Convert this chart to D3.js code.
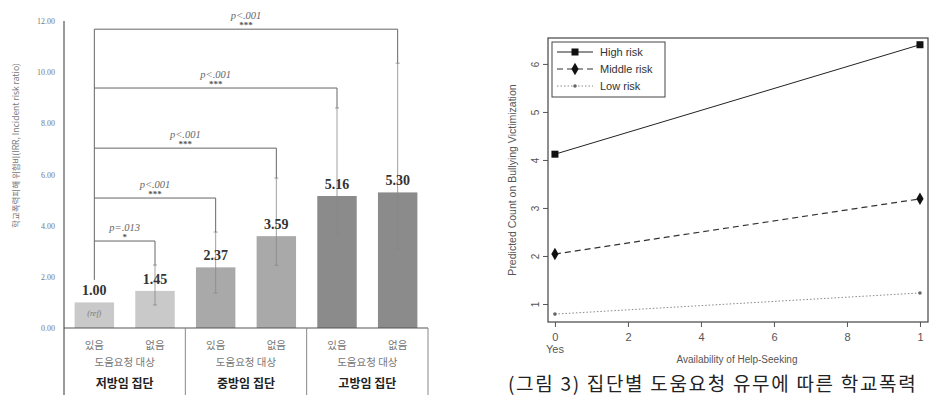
<!DOCTYPE html>
<html>
<head>
<meta charset="utf-8">
<script src="https://cdn.jsdelivr.net/npm/d3@7"></script>
<style>
  body { margin: 0; background: #fff; }
  svg { display: block; }
</style>
</head>
<body>
<svg id="chart" width="934" height="395"></svg>
<script>
// left chart: IRR by neglect group x help-seeking
const barLabels = ['있음', '없음', '있음', '없음', '있음', '없음'];
const groupNames = ['저방임 집단', '중방임 집단', '고방임 집단'];
const subTitle = '도움요청 대상';
const irr = [1.00, 1.45, 2.37, 3.59, 5.16, 5.30];
const ciLow = [null, 0.90, 1.37, 2.45, 3.70, 3.10];
const ciHigh = [null, 2.46, 3.75, 5.86, 8.60, 10.35];
const leftTicks = [0, 2, 4, 6, 8, 10, 12];
// significance brackets vs reference bar (index 0)
const compTarget = [1, 2, 3, 4, 5];
const compLevel = [3.40, 5.08, 7.03, 9.38, 11.68];
const compP = ['p=.013', 'p<.001', 'p<.001', 'p<.001', 'p<.001'];
const compStars = ['*', '***', '***', '***', '***'];
const refLegBottom = 1.88;

// right chart: predicted count
const riskNames = ['High risk', 'Middle risk', 'Low risk'];
const helpX = [0, 1];
const highRisk = [4.12, 6.40];
const middleRisk = [2.04, 3.19];
const lowRisk = [0.79, 1.23];
const rightXTicks = [0, 0.2, 0.4, 0.6, 0.8, 1];
const rightXTickLabels = ['0', '2', '4', '6', '8', '1'];
const rightYTicks = [1, 2, 3, 4, 5, 6];

const svg = d3.select('#chart');
const serif = 'Liberation Serif, DejaVu Serif, serif';
const sans = 'Liberation Sans, Arial, sans-serif';
const kr = 'Noto Sans CJK KR, sans-serif';

// ---------- left chart ----------
const L = { left: 64, right: 428, top: 21, base: 328, bottom: 395 };
const xb = d3.scaleBand().domain(d3.range(irr.length)).range([L.left, L.right]).paddingInner(0.35).paddingOuter(0.175);
const yb = d3.scaleLinear().domain([0, 12]).range([L.base, L.top]);
const barFill = ['#c9c9c9', '#c9c9c9', '#a9a9a9', '#a9a9a9', '#8b8b8b', '#8b8b8b'];
const cx = i => xb(i) + xb.bandwidth() / 2;

const left = svg.append('g');

const yAxis = left.append('g')
  .attr('transform', `translate(${L.left},0)`)
  .call(d3.axisLeft(yb).tickValues(leftTicks).tickSize(0).tickPadding(9).tickFormat(d3.format('.2f')));
yAxis.select('.domain').remove();
yAxis.selectAll('text').attr('font-family', serif).attr('font-size', 8).attr('fill', '#777');

left.append('line').attr('x1', L.left).attr('x2', L.left).attr('y1', yb(12)).attr('y2', L.bottom)
  .attr('stroke', '#555').attr('stroke-width', 1.2);

left.append('text')
  .attr('transform', `translate(17,${(63 + 228) / 2}) rotate(-90)`)
  .attr('text-anchor', 'middle').attr('dominant-baseline', 'middle')
  .attr('font-family', kr).attr('font-size', 8.5).attr('fill', '#777')
  .text('학교폭력피해 위험비(IRR, Incident risk ratio)');

// bars
left.selectAll('rect.bar').data(irr).join('rect')
  .attr('class', 'bar')
  .attr('x', (d, i) => xb(i)).attr('width', xb.bandwidth())
  .attr('y', d => yb(d)).attr('height', d => yb(0) - yb(d))
  .attr('fill', (d, i) => barFill[i]);

// error bars
const eb = left.append('g').attr('stroke', '#888').attr('stroke-width', 0.8);
irr.forEach((d, i) => {
  if (ciLow[i] == null) return;
  eb.append('line').attr('x1', cx(i)).attr('x2', cx(i)).attr('y1', yb(ciLow[i])).attr('y2', yb(ciHigh[i]));
  [ciLow[i], ciHigh[i]].forEach(v => {
    eb.append('line').attr('x1', cx(i) - 2).attr('x2', cx(i) + 2).attr('y1', yb(v)).attr('y2', yb(v));
  });
});

// brackets
const br = left.append('g');
br.append('line').attr('x1', cx(0)).attr('x2', cx(0))
  .attr('y1', yb(d3.max(compLevel))).attr('y2', yb(refLegBottom))
  .attr('stroke', '#666').attr('stroke-width', 1);
compTarget.forEach((t, k) => {
  const yy = yb(compLevel[k]);
  br.append('path')
    .attr('d', `M${cx(0)},${yy}H${cx(t)}V${yb(ciHigh[t])}`)
    .attr('fill', 'none').attr('stroke', '#666').attr('stroke-width', 1);
  const mid = (cx(0) + cx(t)) / 2;
  br.append('text').attr('x', mid).attr('y', yy - 10)
    .attr('text-anchor', 'middle').attr('font-family', serif).attr('font-style', 'italic')
    .attr('font-size', 10.5).attr('fill', '#666').text(compP[k]);
  br.append('text').attr('x', mid).attr('y', yy - 1)
    .attr('text-anchor', 'middle').attr('font-family', serif).attr('font-weight', 'bold')
    .attr('font-size', 9).attr('fill', '#555').text(compStars[k]);
});

// value labels
left.selectAll('text.val').data(irr).join('text')
  .attr('class', 'val')
  .attr('x', (d, i) => cx(i)).attr('y', d => yb(d) - 7)
  .attr('text-anchor', 'middle').attr('font-family', serif).attr('font-weight', 'bold')
  .attr('font-size', 14).attr('fill', '#333')
  .text(d => d3.format('.2f')(d));

left.append('text').attr('x', cx(0)).attr('y', yb(0.45))
  .attr('text-anchor', 'middle').attr('font-family', serif).attr('font-style', 'italic')
  .attr('font-size', 8).attr('fill', '#777').text('(ref)');

// baseline and category boxes
left.append('line').attr('x1', L.left).attr('x2', L.right).attr('y1', yb(0)).attr('y2', yb(0))
  .attr('stroke', '#555').attr('stroke-width', 1.2);
const step = xb.step();
groupNames.forEach((g, gi) => {
  const x0 = L.left + step * 2 * gi, x1 = x0 + step * 2;
  left.append('line').attr('x1', x1).attr('x2', x1).attr('y1', yb(0)).attr('y2', L.bottom)
    .attr('stroke', '#888').attr('stroke-width', 1);
  left.append('text').attr('x', (x0 + x1) / 2).attr('y', 366)
    .attr('text-anchor', 'middle').attr('font-family', kr).attr('font-size', 10.5).attr('fill', '#777')
    .text(subTitle);
  left.append('text').attr('x', (x0 + x1) / 2).attr('y', 388)
    .attr('text-anchor', 'middle').attr('font-family', kr).attr('font-weight', 'bold')
    .attr('font-size', 12).attr('fill', '#222').text(g);
});
left.selectAll('text.cat').data(barLabels).join('text')
  .attr('class', 'cat')
  .attr('x', (d, i) => cx(i)).attr('y', 349)
  .attr('text-anchor', 'middle').attr('font-family', kr).attr('font-size', 10.5).attr('fill', '#777')
  .text(d => d);

// ---------- right chart ----------
const R = { left: 548, right: 928, top: 38, bottom: 322 };
const xr = d3.scaleLinear().domain([-0.019, 1.022]).range([R.left, R.right]);
const yr = d3.scaleLinear().domain([0.625, 6.54]).range([R.bottom, R.top]);
const right = svg.append('g');

right.append('rect').attr('x', R.left).attr('y', R.top)
  .attr('width', R.right - R.left).attr('height', R.bottom - R.top)
  .attr('fill', 'none').attr('stroke', '#444').attr('stroke-width', 1.2);

const xAx = right.append('g').attr('transform', `translate(0,${R.bottom})`)
  .call(d3.axisBottom(xr).tickValues(rightXTicks).tickSize(5).tickPadding(6)
    .tickFormat((d, i) => rightXTickLabels[i]));
xAx.select('.domain').remove();
xAx.selectAll('line').attr('stroke', '#555');
xAx.selectAll('text').attr('font-family', sans).attr('font-size', 11).attr('fill', '#555');

const yAx = right.append('g').attr('transform', `translate(${R.left},0)`)
  .call(d3.axisLeft(yr).tickValues(rightYTicks).tickSize(5).tickFormat(d3.format('d')));
yAx.select('.domain').remove();
yAx.selectAll('line').attr('stroke', '#555');
yAx.selectAll('text')
  .attr('transform', 'translate(-13,0) rotate(-90)')
  .attr('x', 0).attr('y', 0).attr('dy', '0.35em')
  .attr('text-anchor', 'middle')
  .attr('font-family', sans).attr('font-size', 10).attr('fill', '#555');

right.append('text').attr('x', xr(0)).attr('y', 353)
  .attr('text-anchor', 'middle').attr('font-family', sans).attr('font-size', 11).attr('fill', '#555')
  .text('Yes');
right.append('text').attr('x', 737).attr('y', 363)
  .attr('text-anchor', 'middle').attr('font-family', sans).attr('font-size', 10).attr('fill', '#555')
  .text('Availability of Help-Seeking');
right.append('text')
  .attr('transform', `translate(513,${(R.top + R.bottom) / 2}) rotate(-90)`)
  .attr('text-anchor', 'middle').attr('dominant-baseline', 'middle')
  .attr('font-family', sans).attr('font-size', 10.5).attr('fill', '#555')
  .text('Predicted Count on Bullying Victimization');

const series = [
  { name: riskNames[0], values: highRisk, dash: null, color: '#222', width: 1, marker: 'square' },
  { name: riskNames[1], values: middleRisk, dash: '6,4', color: '#333', width: 1.2, marker: 'diamond' },
  { name: riskNames[2], values: lowRisk, dash: '1.5,2', color: '#888', width: 1, marker: 'plus' }
];
const line = d3.line().x((d, i) => xr(helpX[i])).y(d => yr(d));

function drawMarker(g, type, x, y) {
  if (type === 'square') {
    g.append('rect').attr('x', x - 3.5).attr('y', y - 3.5).attr('width', 7).attr('height', 7).attr('fill', '#111');
  } else if (type === 'diamond') {
    g.append('path').attr('d', d3.symbol(d3.symbolDiamond, 45)()).attr('transform', `translate(${x},${y})`).attr('fill', '#111');
  } else {
    g.append('circle').attr('cx', x).attr('cy', y).attr('r', 1.8).attr('fill', '#666');
  }
}

series.forEach(s => {
  right.append('path').datum(s.values).attr('d', line)
    .attr('fill', 'none').attr('stroke', s.color).attr('stroke-width', s.width)
    .attr('stroke-dasharray', s.dash);
  s.values.forEach((v, i) => drawMarker(right, s.marker, xr(helpX[i]), yr(v)));
});

// legend
const lg = right.append('g');
lg.append('rect').attr('x', 552).attr('y', 42).attr('width', 113).attr('height', 55)
  .attr('fill', '#fff').attr('stroke', '#444').attr('stroke-width', 1);
series.forEach((s, k) => {
  const yy = 52 + k * 17;
  lg.append('line').attr('x1', 557).attr('x2', 593).attr('y1', yy).attr('y2', yy)
    .attr('stroke', s.color).attr('stroke-width', s.width).attr('stroke-dasharray', s.dash);
  drawMarker(lg, s.marker, 575, yy);
  lg.append('text').attr('x', 600).attr('y', yy).attr('dy', '0.35em')
    .attr('font-family', sans).attr('font-size', 11).attr('fill', '#333').text(s.name);
});

// caption
svg.append('text').attr('x', 508).attr('y', 391)
  .attr('font-family', kr).attr('font-size', 19).attr('letter-spacing', 1.7).attr('fill', '#222')
  .text('(그림 3) 집단별 도움요청 유무에 따른 학교폭력');
</script>
</body>
</html>
